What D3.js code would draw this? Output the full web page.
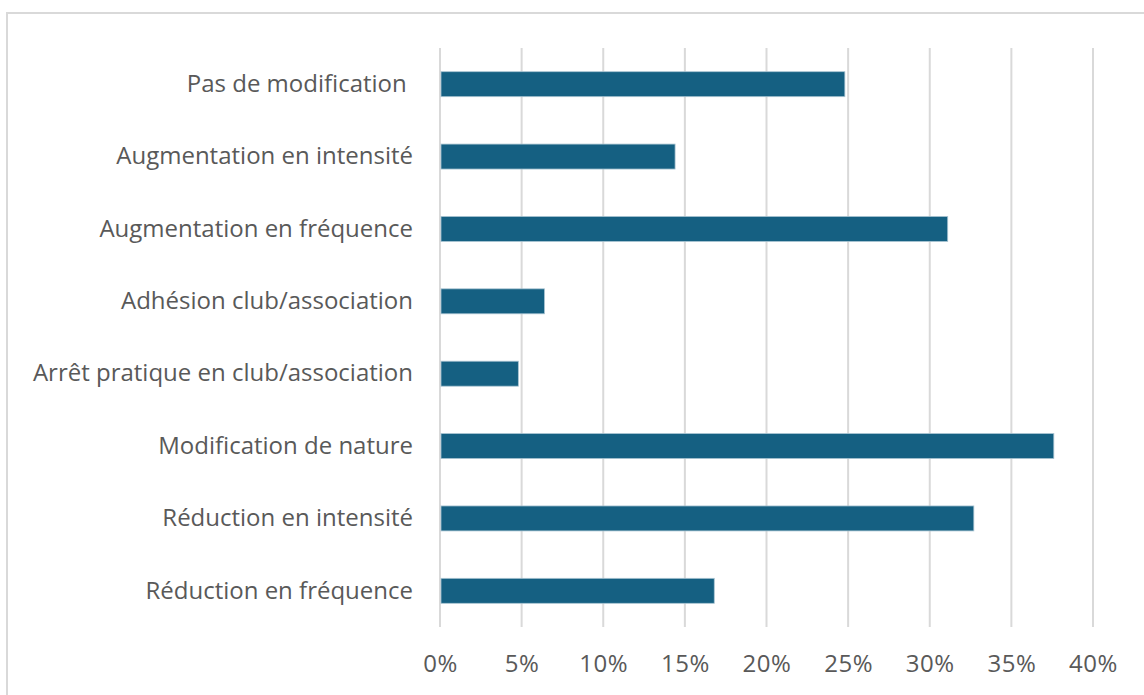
<!DOCTYPE html>
<html><head><meta charset="utf-8">
<script src="https://cdn.jsdelivr.net/npm/d3@7"></script>
<style>body{margin:0;background:#fff;} text{font-family:"Open Sans", Lato, sans-serif;}</style>
</head><body><svg id="c" width="1144" height="695"></svg>
<script>
const categories = ["Pas de modification ", "Augmentation en intensité", "Augmentation en fréquence", "Adhésion club/association", "Arrêt pratique en club/association", "Modification de nature", "Réduction en intensité", "Réduction en fréquence"];
const values = [0.248, 0.144, 0.311, 0.064, 0.048, 0.376, 0.327, 0.168];
const ticks = [0, 0.05, 0.10, 0.15, 0.20, 0.25, 0.30, 0.35, 0.40];

const svg = d3.select("#c");
svg.append("rect").attr("x",7).attr("y",13).attr("width",1150).attr("height",700)
  .attr("fill","#fff").attr("stroke","#d9d9d9").attr("stroke-width",2);

const x = d3.scaleLinear().domain([0,0.4]).range([440,1093]);
const y = d3.scaleBand().domain(categories).range([48,627]).paddingInner(0.655).paddingOuter(0.3275);

svg.append("g").selectAll("line").data(ticks).join("line")
  .attr("x1",d=>x(d)).attr("x2",d=>x(d)).attr("y1",48).attr("y2",627)
  .attr("stroke","#d9d9d9").attr("stroke-width",2);

svg.append("g").selectAll("rect").data(values).join("rect")
  .attr("x",x(0)+1).attr("y",(d,i)=>y(categories[i]))
  .attr("width",d=>x(d)-x(0)-1).attr("height",y.bandwidth())
  .attr("fill","#156082").attr("stroke","#a9c4d2").attr("stroke-width",0.8);

const xa = svg.append("g").attr("transform","translate(0,627)")
  .call(d3.axisBottom(x).tickValues(ticks).tickFormat(d3.format(".0%")).tickSize(0).tickPadding(28));
xa.select(".domain").remove();
xa.selectAll("text").attr("fill","#595959").style("font-size","24px").style("letter-spacing","0.5px");

const ya = svg.append("g").attr("transform","translate(413,0)")
  .call(d3.axisLeft(y).tickSize(0).tickPadding(0));
ya.select(".domain").remove();
ya.selectAll("text").attr("fill","#595959").style("font-size","24px").style("white-space","pre");
</script></body></html>
